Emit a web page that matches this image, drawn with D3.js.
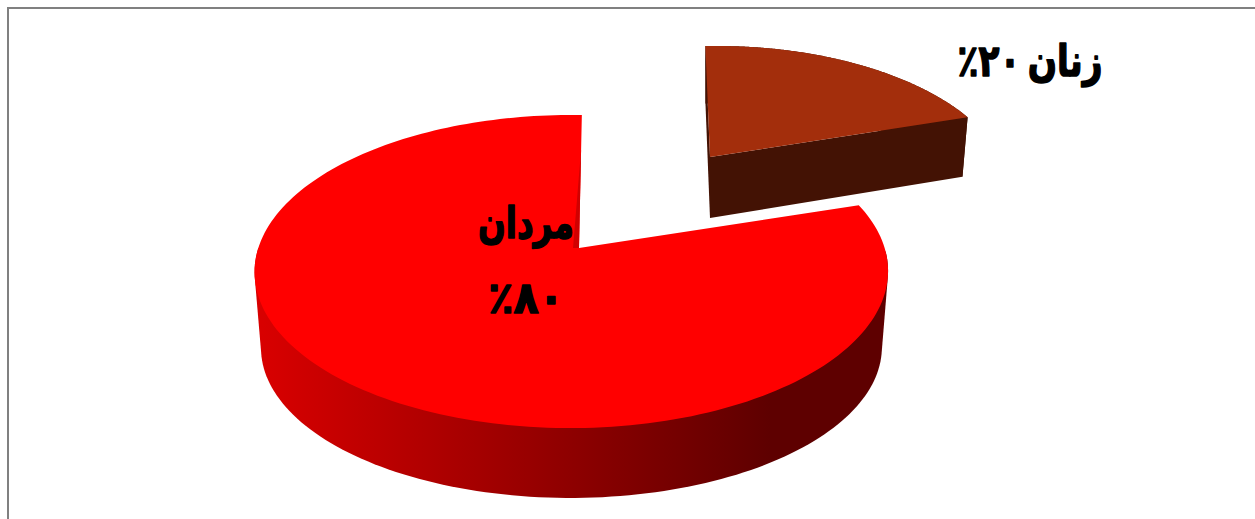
<!DOCTYPE html>
<html lang="fa">
<head>
<meta charset="utf-8">
<script src="https://cdn.jsdelivr.net/npm/d3@7"></script>
<style>
html,body{margin:0;padding:0;background:#fff;overflow:hidden}
svg{display:block}
text{font-family:"DejaVu Sans",sans-serif;font-weight:bold;fill:#000;direction:rtl;text-anchor:middle;stroke:#000;stroke-width:1.6px;stroke-linejoin:round}
</style>
</head>
<body>
<svg id="c" width="1255" height="519"></svg>
<script>
const categories = ["زنان", "مردان"];
const values = [20, 80];
const labelLines = [["زنان ۲۰٪"], ["مردان", "٪۸۰"]];
const topColors = ["#a32e0c", "#ff0000"];

const W = 1255, H = 519;
const svg = d3.select("#c");

// perspective view of the unit disc, one per slice (the women's slice is pulled away)
const views = [
  {ax: 710, ay: 157, R: 272, T: 133, k: 0.20, m: 0.065, s: 8.4, d0: 61, dRef: 157, dSlope: 0.033},
  {ax: 579, ay: 248, R: 313, T: 153, k: 0.15, m: -0.024, s: 0, d0: 76, dRef: 275, dSlope: -0.04}
];
function project(v, x, y) {
  const w = 1 - v.k * y - v.m * x;
  return [v.ax + (v.R * x + v.s * y) / w, v.ay + v.T * y / w];
}
// lower rim of the extrusion
function drop(v, p) {
  return [v.ax + (p[0] - v.ax) * 0.98, p[1] + v.d0 + (p[1] - v.dRef) * v.dSlope];
}

const rot = 0.6 * Math.PI / 180;
const arcs = d3.pie().sort(null).startAngle(rot).endAngle(2 * Math.PI + rot)(values);
const line = d3.line().curve(d3.curveLinear);

// frame
svg.append("path").attr("d", `M${W} 8H8V${H}`).attr("fill", "none").attr("stroke", "#808080").attr("stroke-width", 2);

// gradient for the men's rim
const grad = svg.append("defs").append("linearGradient").attr("id", "rim")
  .attr("gradientUnits", "userSpaceOnUse").attr("x1", 262).attr("x2", 770).attr("y1", 0).attr("y2", 0);
grad.append("stop").attr("offset", 0).attr("stop-color", "#d80000");
grad.append("stop").attr("offset", 1).attr("stop-color", "#5e0000");

function slice(i) {
  const a = arcs[i], v = views[i];
  const apex = project(v, 0, 0);
  const ts = d3.range(0, 201).map(j => a.startAngle + (a.endAngle - a.startAngle) * j / 200);
  const rim = ts.map(t => project(v, Math.sin(t), -Math.cos(t)));
  const front = ts.filter(t => Math.cos(t) <= 0).map(t => project(v, Math.sin(t), -Math.cos(t)));
  return {apex, rim, front};
}

// draw men first, women on top
[1, 0].forEach(i => {
  const s = slice(i), v = views[i];
  const low = s.rim.map(p => drop(v, p));
  if (i === 1) {
    // outer wall: silhouette of the front half of both rims
    const hull = d3.polygonHull(s.front.concat(s.front.map(p => drop(v, p))));
    svg.append("path").attr("d", line(hull) + "Z").attr("fill", "url(#rim)");
  } else {
    const lowApex = drop(v, s.apex);
    svg.append("path").attr("d", line(s.rim.concat(low.slice().reverse())) + "Z").attr("fill", "#431204");
    svg.append("path").attr("d", line([s.rim[0], low[0], lowApex, s.apex]) + "Z").attr("fill", "#431204");
    svg.append("path").attr("d", line([s.apex, lowApex, low[200], s.rim[200]]) + "Z").attr("fill", "#431204");
  }
  svg.append("path").attr("d", line([s.apex].concat(s.rim)) + "Z").attr("fill", topColors[i]);
  if (i === 1) {
    const e = s.rim[s.rim.length - 1];
    const q = [e[0] + (s.apex[0] - e[0]) * 0.26, e[1] + (s.apex[1] - e[1]) * 0.26];
    svg.append("path").attr("d", line([q, s.apex, [s.apex[0] - 6, s.apex[1]]]) + "Z").attr("fill", "#d00000");
  }
});

// labels
const labelPos = [[[1030, 76]], [[526, 238], [526, 313]]];
const labelScale = [[0.78], [0.74, 0.94]];
labelLines.forEach((lines, i) => lines.forEach((t, j) => {
  svg.append("text")
    .attr("transform", `translate(${labelPos[i][j][0]},${labelPos[i][j][1]}) scale(${labelScale[i][j]},1)`)
    .attr("font-size", 44).attr("word-spacing", -6).text(t);
}));
</script>
</body>
</html>
